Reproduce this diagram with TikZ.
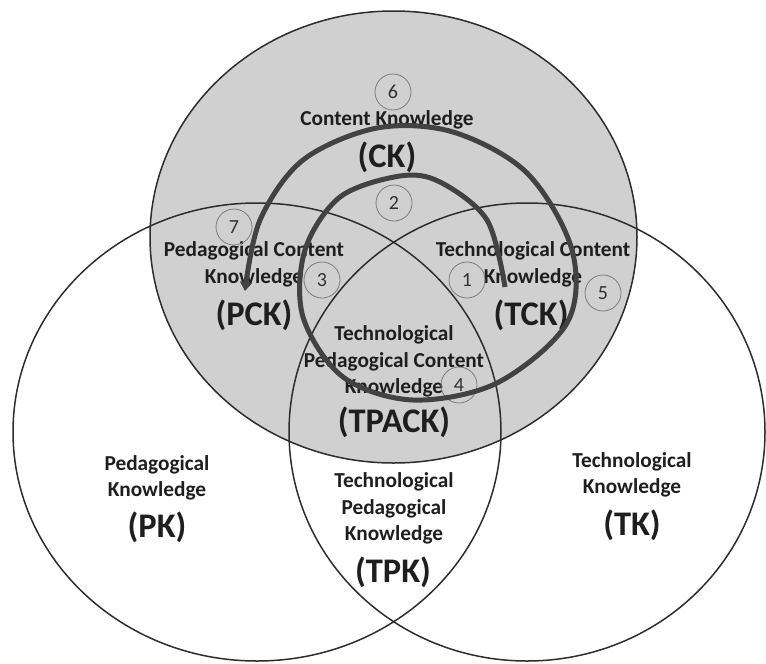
\documentclass[tikz,border=0pt]{standalone}
\usepackage{fontspec}
\setmainfont{Carlito}
\usetikzlibrary{arrows.meta}
\definecolor{ckfill}{RGB}{208,208,208}
\definecolor{rimcol}{RGB}{45,45,45}
\definecolor{txtcol}{RGB}{30,30,30}
\definecolor{spiralcol}{RGB}{66,66,66}
\definecolor{numrim}{RGB}{125,125,125}
\definecolor{numtxt}{RGB}{50,50,50}
\begin{document}
\begin{tikzpicture}[x=1pt,y=-1pt,
  rim/.style={draw=rimcol,line width=1.5pt},
  label/.style={text=txtcol,font=\bfseries\fontsize{21.3}{26.5}\selectfont,align=center,inner sep=0pt},
  acro/.style={text=txtcol,font=\bfseries\fontsize{34.5}{36}\selectfont,inner sep=0pt},
  numbox/.style={circle,draw=numrim,line width=0.8pt,minimum size=36pt,inner sep=0pt,
    text=numtxt,font=\fontsize{20}{20}\selectfont},
  spiralpath/.style={draw=spiralcol,line width=5pt,
    -{Triangle[length=9pt,width=12pt]}}]
\useasboundingbox (0,0) rectangle (766,664);

% centres of the three knowledge domains
\coordinate (ck) at (393.5,237);
\coordinate (pk) at (257,432);
\coordinate (tk) at (527,432);

% content knowledge, shaded
\fill[ckfill] (ck) ellipse [x radius=243.5,y radius=226];
% outlines
\draw[rim] (pk) ellipse [x radius=244,y radius=229];
\draw[rim] (tk) ellipse [x radius=238,y radius=229];
\draw[rim] (ck) ellipse [x radius=243.5,y radius=226];

% region labels
\node[label] (ckt) at (387,120) {Content Knowledge};
\node[acro]  (cka) at (387,157) {(CK)};
\node[label] (pckt) at (254,264.5) {Pedagogical Content\\Knowledge};
\node[acro]  (pcka) at (254,315) {(PCK)};
\node[label] (tckt) at (533,264.5) {Technological Content\\Knowledge};
\node[acro]  (tcka) at (531,315) {(TCK)};
\node[label] (tpackt) at (394,361.5) {Technological\\Pedagogical Content\\Knowledge};
\node[acro]  (tpacka) at (394,422) {(TPACK)};
\node[label] (pkt) at (157,478) {Pedagogical\\Knowledge};
\node[acro]  (pka) at (157,527) {(PK)};
\node[label] (tkt) at (632,475) {Technological\\Knowledge};
\node[acro]  (tka) at (632,525) {(TK)};
\node[label] (tpkt) at (394,508.5) {Technological\\Pedagogical\\Knowledge};
\node[acro]  (tpka) at (393,572) {(TPK)};

% numbered steps
\node[numbox] (n1) at (467,280) {1};
\node[numbox] (n2) at (394,203) {2};
\node[numbox] (n3) at (322,280) {3};
\node[numbox] (n4) at (459,385) {4};
\node[numbox] (n5) at (603,293) {5};
\node[numbox] (n6) at (393,92) {6};
\node[numbox] (n7) at (234,227) {7};

% spiral from TCK round to PCK
\coordinate (spin) at (505,287);
\coordinate (spout) at (245,291);
\draw[spiralpath] plot[smooth,tension=0.55] coordinates {
  (spin) (487,220) (440,182) (400,176) (340,197) (305,250) (303,317)
  (343,377) (413,400) (497,383) (567,323) (572,250) (527,173)
  (453,132) (377,128) (303,160) (260,220) (spout)};
\end{tikzpicture}
\end{document}
